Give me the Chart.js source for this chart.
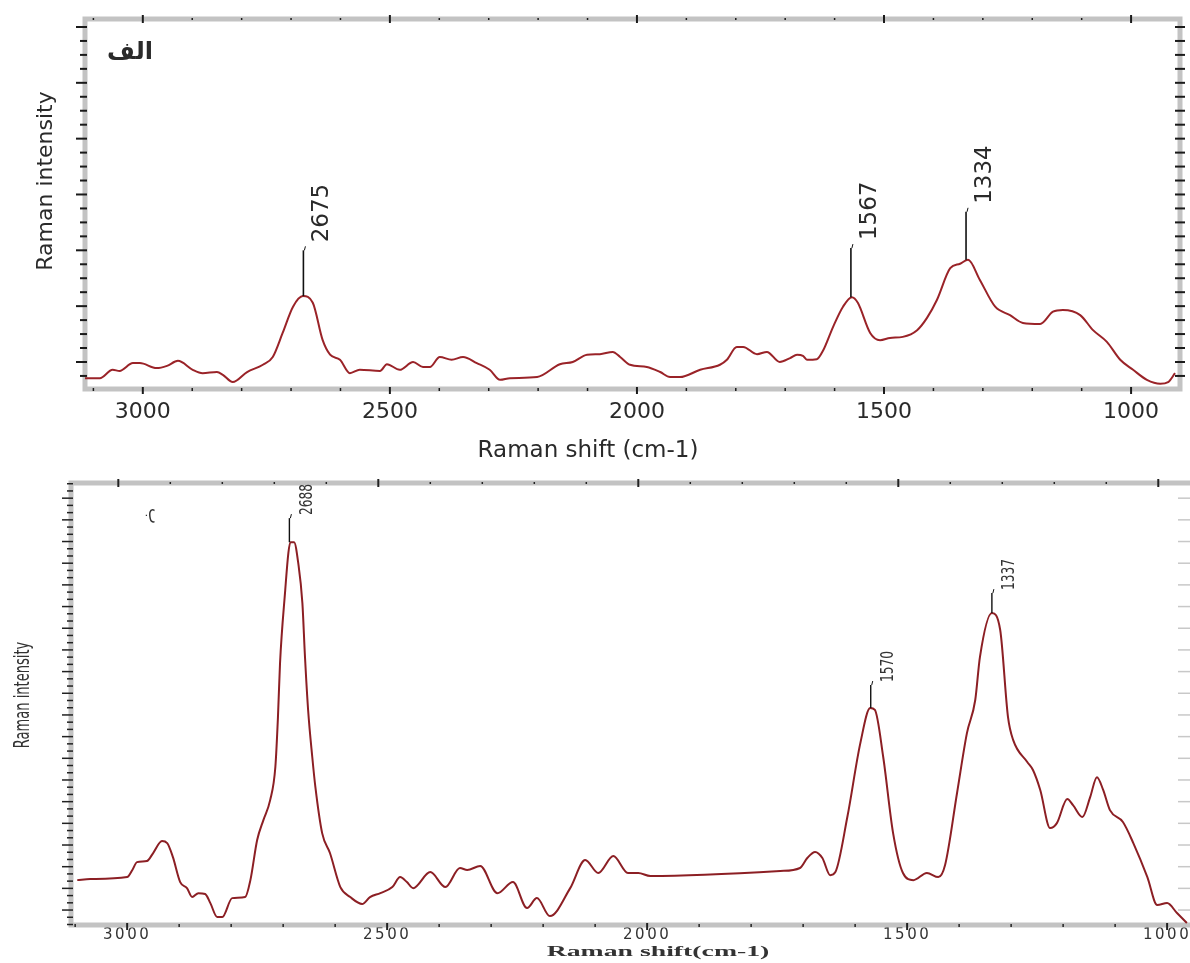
<!DOCTYPE html>
<html>
<head>
<meta charset="utf-8">
<script src="https://cdn.jsdelivr.net/npm/chart.js@4.4.1/dist/chart.umd.min.js"></script>
<style>
  html, body { margin: 0; padding: 0; background: #fff; }
  #wrap { position: relative; width: 1190px; height: 963px; }
  #c1 { position: absolute; left: 0; top: 0; }
  #c2 { position: absolute; left: 0; top: 470px; }
</style>
</head>
<body>
<div id="wrap">
  <canvas id="c1" width="1190" height="470"></canvas>
  <canvas id="c2" width="1190" height="493"></canvas>
</div>
<script>
// panel "الف" - Raman shift (cm-1) and intensity (a.u.)
const topShift = [3121, 3087, 3061, 3047, 3020, 3006, 2972, 2951, 2929, 2899, 2879, 2850, 2838, 2818, 2789,
  2757, 2737, 2717, 2696, 2676, 2656, 2636, 2621, 2601, 2581, 2561, 2520, 2506, 2480, 2453, 2433, 2419,
  2399, 2375, 2352, 2324, 2298, 2277, 2257, 2202, 2156, 2130, 2101, 2075, 2049, 2034, 2014, 1980, 1953,
  1933, 1913, 1872, 1832, 1818, 1798, 1785, 1757, 1737, 1711, 1690, 1676, 1664, 1656, 1636, 1623, 1603,
  1583, 1565, 1553, 1528, 1508, 1488, 1462, 1433, 1413, 1393, 1366, 1346, 1330, 1306, 1275, 1245, 1219,
  1184, 1158, 1138, 1103, 1077, 1049, 1022, 996, 968, 941, 925, 911];
const topIntensity = [-0.29, -0.29, -0.14, -0.16, -0.02, -0.02, -0.11, -0.07, 0.02, -0.14, -0.20, -0.18, -0.23, -0.36, -0.18,
  -0.05, 0.09, 0.52, 0.99, 1.18, 1.06, 0.39, 0.13, 0.04, -0.20, -0.14, -0.16, -0.04, -0.14, 0.00, -0.09, -0.09,
  0.09, 0.04, 0.09, -0.02, -0.14, -0.32, -0.29, -0.27, -0.04, 0.00, 0.13, 0.14, 0.18, 0.09, -0.05, -0.09, -0.18,
  -0.27, -0.27, -0.14, -0.05, 0.04, 0.27, 0.27, 0.14, 0.18, 0.00, 0.07, 0.13, 0.11, 0.04, 0.05, 0.21, 0.63,
  0.99, 1.16, 1.06, 0.52, 0.39, 0.43, 0.45, 0.57, 0.79, 1.11, 1.68, 1.76, 1.83, 1.47, 0.99, 0.84, 0.70,
  0.68, 0.90, 0.93, 0.84, 0.57, 0.36, 0.04, -0.14, -0.32, -0.39, -0.36, -0.20];

// panel "ب"
const botShift = [3096, 3071, 3000, 2990, 2981, 2962, 2950, 2933, 2923, 2912, 2898, 2885, 2875, 2863, 2850,
  2840, 2827, 2817, 2798, 2773, 2763, 2750, 2738, 2725, 2715, 2710, 2706, 2696, 2690, 2686, 2679, 2671,
  2663, 2658, 2652, 2644, 2638, 2625, 2610, 2590, 2571, 2548, 2533, 2513, 2490, 2475, 2462, 2450, 2417,
  2388, 2360, 2346, 2321, 2288, 2258, 2231, 2212, 2187, 2148, 2119, 2094, 2065, 2037, 2017, 1994, 1744,
  1706, 1692, 1677, 1663, 1648, 1638, 1615, 1590, 1571, 1562, 1546, 1527, 1508, 1488, 1462, 1440, 1427,
  1404, 1385, 1369, 1360, 1337, 1321, 1306, 1296, 1269, 1258, 1244, 1225, 1212, 1192, 1181, 1163, 1148,
  1135, 1123, 1110, 1085, 1065, 1038, 1019, 1000, 981, 962];
const botIntensity = [1.38, 1.43, 1.52, 1.85, 2.21, 2.26, 2.63, 3.18, 3.09, 2.44, 1.29, 1.01, 0.60, 0.78, 0.74,
  0.32, -0.32, -0.32, 0.55, 0.60, 1.38, 3.23, 4.15, 5.07, 6.60, 8.90, 11.39, 14.76, 16.47, 16.97, 16.97, 16.01,
  14.16, 11.67, 9.23, 7.06, 5.67, 3.55, 2.63, 1.06, 0.60, 0.28, 0.60, 0.78, 1.06, 1.52, 1.29, 1.01, 1.75,
  1.06, 1.94, 1.85, 2.03, 0.78, 1.29, 0.09, 0.55, -0.28, 1.01, 2.31, 1.71, 2.49, 1.71, 1.71, 1.57, 1.80,
  1.94, 2.40, 2.68, 2.40, 1.61, 1.75, 4.29, 7.70, 9.32, 9.23, 7.06, 3.55, 1.71, 1.38, 1.71, 1.52, 2.08,
  5.40, 8.16, 9.69, 11.67, 13.70, 12.92, 8.90, 7.84, 6.83, 6.46, 5.54, 3.78, 4.01, 5.12, 4.84, 4.29, 5.21,
  6.13, 5.54, 4.61, 4.06, 3.09, 1.52, 0.23, 0.32, -0.14, -0.60];

const shiftTicks = [3000, 2500, 2000, 1500, 1000];

const topPeaks = [2675, 1567, 1334];
const topPeakBase = [1.18, 1.16, 1.83];
const topPeakTop = [2.0, 2.04, 2.69];

const botPeaks = [2688, 1570, 1337];
const botPeakBase = [16.97, 9.32, 13.70];
const botPeakTop = [18.08, 10.38, 14.62];

const narrow = '"Liberation Sans Narrow", "DejaVu Sans Condensed", sans-serif';

function seg(ctx, x1, y1, x2, y2) {
  ctx.beginPath();
  ctx.moveTo(x1, y1);
  ctx.lineTo(x2, y2);
  ctx.stroke();
}

function drawText(ctx, s, x, y, font, rot, sx, align) {
  ctx.save();
  ctx.translate(x, y);
  ctx.rotate(rot);
  ctx.scale(sx, 1);
  ctx.font = font;
  ctx.textAlign = align;
  ctx.textBaseline = 'middle';
  ctx.fillText(s, 0, 0);
  ctx.restore();
}

// frame bands, minor ticks, peak markers and free texts
const decor = {
  id: 'decor',
  beforeDraw(chart, args, o) {
    chart.ctx.letterSpacing = o.tickSpacing;
  },
  beforeDatasetsDraw(chart, args, o) {
    const { ctx, chartArea: a, scales: { x, y } } = chart;
    const right = o.rightBand ? a.right : chart.width;
    ctx.save();
    ctx.letterSpacing = '0px';
    ctx.strokeStyle = o.bandColor;
    ctx.lineWidth = 5;
    ctx.beginPath();
    ctx.moveTo(right, a.top);
    ctx.lineTo(a.left, a.top);
    ctx.lineTo(a.left, a.bottom);
    ctx.lineTo(right, a.bottom);
    if (o.rightBand) ctx.closePath();
    ctx.stroke();

    ctx.strokeStyle = o.tickColor;
    for (let v = Math.ceil(x.min / 100) * 100; v <= x.max; v += 100) {
      const major = v % 500 === 0;
      ctx.lineWidth = major ? 2 : 1.5;
      const pb = x.getPixelForValue(v);
      seg(ctx, pb, a.bottom - (major ? 2 : 1), pb, a.bottom + (major ? 5 : 2));
      const pt = x.getPixelForValue(v + o.topTickShift);
      if (pt > a.left + 3 && pt < right - 3) seg(ctx, pt, a.top - (major ? 4 : 1), pt, a.top + (major ? 4 : 1));
    }

    const div = o.yDiv;
    for (let k = Math.ceil(y.min * div); k <= Math.floor(y.max * div); k++) {
      const major = k % div === 0;
      const py = y.getPixelForValue(k / div);
      ctx.strokeStyle = o.tickColor;
      ctx.lineWidth = o.leftWidth;
      seg(ctx, a.left - (major ? o.leftMajor : o.leftMinor), py, a.left + 2, py);
      if (o.rightBand) {
        seg(ctx, a.right - 5, py, a.right + 5, py);
      } else if (major) {
        ctx.strokeStyle = o.rightTickColor;
        ctx.lineWidth = 1.5;
        seg(ctx, chart.width - 12, py, chart.width, py);
      }
    }
    ctx.restore();
  },
  afterDatasetsDraw(chart, args, o) {
    const { ctx, scales: { x, y } } = chart;
    ctx.save();
    ctx.letterSpacing = '0px';
    ctx.strokeStyle = '#111';
    ctx.fillStyle = o.textColor;
    o.peaks.forEach((p, i) => {
      const px = x.getPixelForValue(p);
      const yb = y.getPixelForValue(o.peakBase[i]);
      const yt = y.getPixelForValue(o.peakTop[i]);
      ctx.lineWidth = o.peakWidth;
      seg(ctx, px, yb, px, yt);
      ctx.lineWidth = 1;
      seg(ctx, px + 1, yt, px + 2, yt - 4);
      drawText(ctx, String(p), px + o.labelDx, yt - o.labelDy, o.labelFont, -Math.PI / 2, o.labelScale, 'left');
    });
    o.texts.forEach(t => drawText(ctx, t.text, t.x, t.y, t.font, t.rot || 0, t.sx || 1, 'center'));
    ctx.restore();
  }
};

function shiftAxis(min, max, h, font, pad, color) {
  return {
    type: 'linear', reverse: true, min: min, max: max,
    afterBuildTicks: s => { s.ticks = shiftTicks.map(v => ({ value: v })); },
    afterFit: s => { s.height = h; s.paddingLeft = 0; s.paddingRight = 0; },
    grid: { display: false, drawTicks: false },
    border: { display: false },
    ticks: { padding: pad, color: color, font: font, maxRotation: 0, autoSkip: false, callback: v => String(v) }
  };
}

function intensityAxis(min, max, w) {
  return {
    type: 'linear', min: min, max: max,
    afterFit: s => { s.width = w; },
    grid: { display: false, drawTicks: false },
    border: { display: false },
    ticks: { display: false }
  };
}

new Chart(document.getElementById('c1'), {
  type: 'line',
  data: {
    datasets: [{
      data: topShift.map((s, i) => ({ x: s, y: topIntensity[i] })),
      borderColor: '#9a2328',
      borderWidth: 2,
      pointRadius: 0,
      cubicInterpolationMode: 'monotone'
    }]
  },
  options: {
    responsive: false,
    animation: false,
    layout: { padding: { top: 19, right: 10, left: 0, bottom: 0 } },
    scales: {
      x: shiftAxis(901, 3117, 81, { family: 'DejaVu Sans', size: 22 }, 10, '#2a2a2a'),
      y: intensityAxis(-0.484, 6.143, 85)
    },
    plugins: {
      legend: { display: false },
      tooltip: { enabled: false },
      decor: {
        tickSpacing: '0px', bandColor: '#c3c3c3', tickColor: '#1a1a1a', rightBand: true,
        topTickShift: 0, yDiv: 4, leftMajor: 9, leftMinor: 5, leftWidth: 2, rightTickColor: '#1a1a1a',
        peaks: topPeaks, peakBase: topPeakBase, peakTop: topPeakTop, peakWidth: 1.6,
        labelDx: 19, labelDy: 8, labelFont: '23px "DejaVu Sans"', labelScale: 1, textColor: '#2a2a2a',
        texts: [
          { text: 'Raman intensity', x: 46, y: 181, font: '22px "DejaVu Sans"', rot: -Math.PI / 2 },
          { text: 'Raman shift (cm-1)', x: 588, y: 451, font: '23px "DejaVu Sans"' },
          { text: 'الف', x: 130, y: 53, font: 'bold 24px "DejaVu Sans"' }
        ]
      }
    }
  },
  plugins: [decor]
});

new Chart(document.getElementById('c2'), {
  type: 'line',
  data: {
    datasets: [{
      data: botShift.map((s, i) => ({ x: s, y: botIntensity[i] })),
      borderColor: '#8c1f24',
      borderWidth: 2,
      pointRadius: 0,
      cubicInterpolationMode: 'monotone'
    }]
  },
  options: {
    responsive: false,
    animation: false,
    layout: { padding: { top: 13, right: 0, left: 0, bottom: 0 } },
    scales: {
      x: shiftAxis(956, 3108, 38, { family: 'DejaVu Sans', size: 15 }, 1, '#333'),
      y: intensityAxis(-0.69, 19.7, 71)
    },
    plugins: {
      legend: { display: false },
      tooltip: { enabled: false },
      decor: {
        tickSpacing: '2.5px', bandColor: '#c3c3c3', tickColor: '#222', rightBand: false,
        topTickShift: 17, yDiv: 3, leftMajor: 9, leftMinor: 4, leftWidth: 1.5, rightTickColor: '#c8c8c8',
        peaks: botPeaks, peakBase: botPeakBase, peakTop: botPeakTop, peakWidth: 1.4,
        labelDx: 18, labelDy: 3, labelFont: '17px ' + narrow, labelScale: 0.8, textColor: '#333',
        texts: [
          { text: 'Raman intensity', x: 23, y: 225, font: '22px ' + narrow, rot: -Math.PI / 2, sx: 0.66 },
          { text: 'Raman shift(cm-1)', x: 658, y: 482, font: 'bold 15px "Liberation Serif", serif', sx: 1.85 },
          { text: 'ب', x: 153, y: 46, font: '17px "DejaVu Sans"', rot: Math.PI / 2 }
        ]
      }
    }
  },
  plugins: [decor]
});
</script>
</body>
</html>
